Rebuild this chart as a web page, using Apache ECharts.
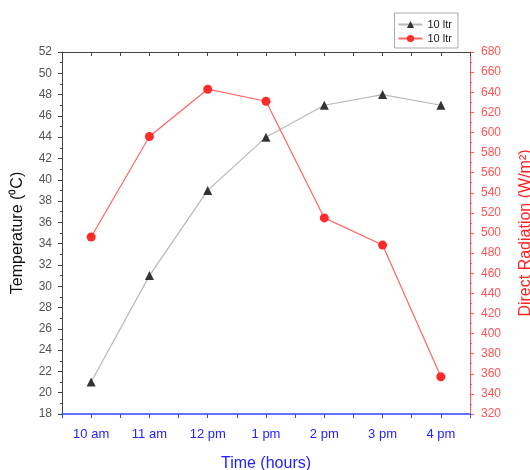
<!DOCTYPE html>
<html><head><meta charset="utf-8">
<script src="https://cdn.jsdelivr.net/npm/echarts@6/dist/echarts.min.js"></script>
<style>html,body{margin:0;padding:0;background:#fff}#c{width:530px;height:470px}</style>
</head><body><div id="c"></div>
<script>
const categories = ['10 am','11 am','12 pm','1 pm','2 pm','3 pm','4 pm'];
const temperature = [21, 31, 39, 44, 47, 48, 47];
const radiation = [496, 596, 643, 631, 515, 488, 357];
const seriesNames = ['10 ltr', '10 ltr '];

const FONT = 'Liberation Sans, Arial, sans-serif';
const xMin = -0.5, xMax = categories.length - 0.5;

const chart = echarts.init(document.getElementById('c'));
const hidden = {show:false};
chart.setOption({
  animation:false,
  textStyle:{fontFamily:FONT},
  grid:{left:62, right:60, top:52, bottom:56, containLabel:false, outerBoundsMode:'none'},
  legend:{
    right:72, top:13, orient:'vertical', itemGap:3, itemWidth:24, itemHeight:9,
    borderColor:'#aaa', borderWidth:1, padding:[6,3,4,3],
    textStyle:{fontSize:11, color:'#222', fontFamily:FONT},
    data:seriesNames
  },
  xAxis:[
    {type:'value', position:'bottom', min:xMin, max:xMax, interval:0.5, splitLine:hidden,
     name:'Time (hours)', nameLocation:'middle', nameGap:42,
     nameTextStyle:{color:'#2222ff', fontSize:16},
     axisLine:{show:true, onZero:false, lineStyle:{color:'#3344ff', width:1.5}},
     axisTick:{show:true, length:4, lineStyle:{color:'#3344ff', width:1}},
     axisLabel:{show:true, color:'#2222ff', fontSize:13, margin:14,
       formatter:(v) => Number.isInteger(v) ? (categories[v] || '') : ''}},
    {type:'value', position:'top', min:xMin, max:xMax, interval:0.5, splitLine:hidden,
     axisLine:{show:true, onZero:false, lineStyle:{color:'#444'}}, axisLabel:hidden,
     axisTick:{show:true, inside:true, length:4, lineStyle:{color:'#444'}}}
  ],
  yAxis:[
    {type:'value', position:'left', min:18, max:52, interval:2,
     name:'Temperature (⁰C)', nameLocation:'middle', nameGap:36, nameTextStyle:{color:'#111', fontSize:16},
     axisLine:{show:true, onZero:false, lineStyle:{color:'#444'}},
     axisTick:{show:true, length:4, lineStyle:{color:'#444'}},
     minorTick:{show:true, splitNumber:2, length:2, lineStyle:{color:'#444'}},
     axisLabel:{color:'#555', fontSize:12, margin:10}, splitLine:hidden},
    {type:'value', position:'right', min:320, max:680, interval:20,
     name:'Direct Radiation (W/m²)', nameLocation:'middle', nameGap:48, nameRotate:90,
     nameTextStyle:{color:'#ff2222', fontSize:16},
     axisLine:{show:true, onZero:false, lineStyle:{color:'#ff5555'}},
     axisTick:{show:true, length:4, lineStyle:{color:'#ff5555'}},
     minorTick:{show:true, splitNumber:2, length:2, lineStyle:{color:'#ff5555'}},
     axisLabel:{color:'#ff5555', fontSize:12, margin:11}, splitLine:hidden}
  ],
  series:[
    {name:seriesNames[0], type:'line', xAxisIndex:0, yAxisIndex:0,
     data:temperature.map((v, i) => [i, v]),
     symbol:'triangle', symbolSize:9,
     lineStyle:{color:'#b8b8b8', width:1.2},
     itemStyle:{color:'#333'}},
    {name:seriesNames[1], type:'line', xAxisIndex:0, yAxisIndex:1,
     data:radiation.map((v, i) => [i, v]),
     symbol:'circle', symbolSize:9,
     lineStyle:{color:'#ff6666', width:1.2},
     itemStyle:{color:'#ff2a2a'}}
  ]
});
</script></body></html>
